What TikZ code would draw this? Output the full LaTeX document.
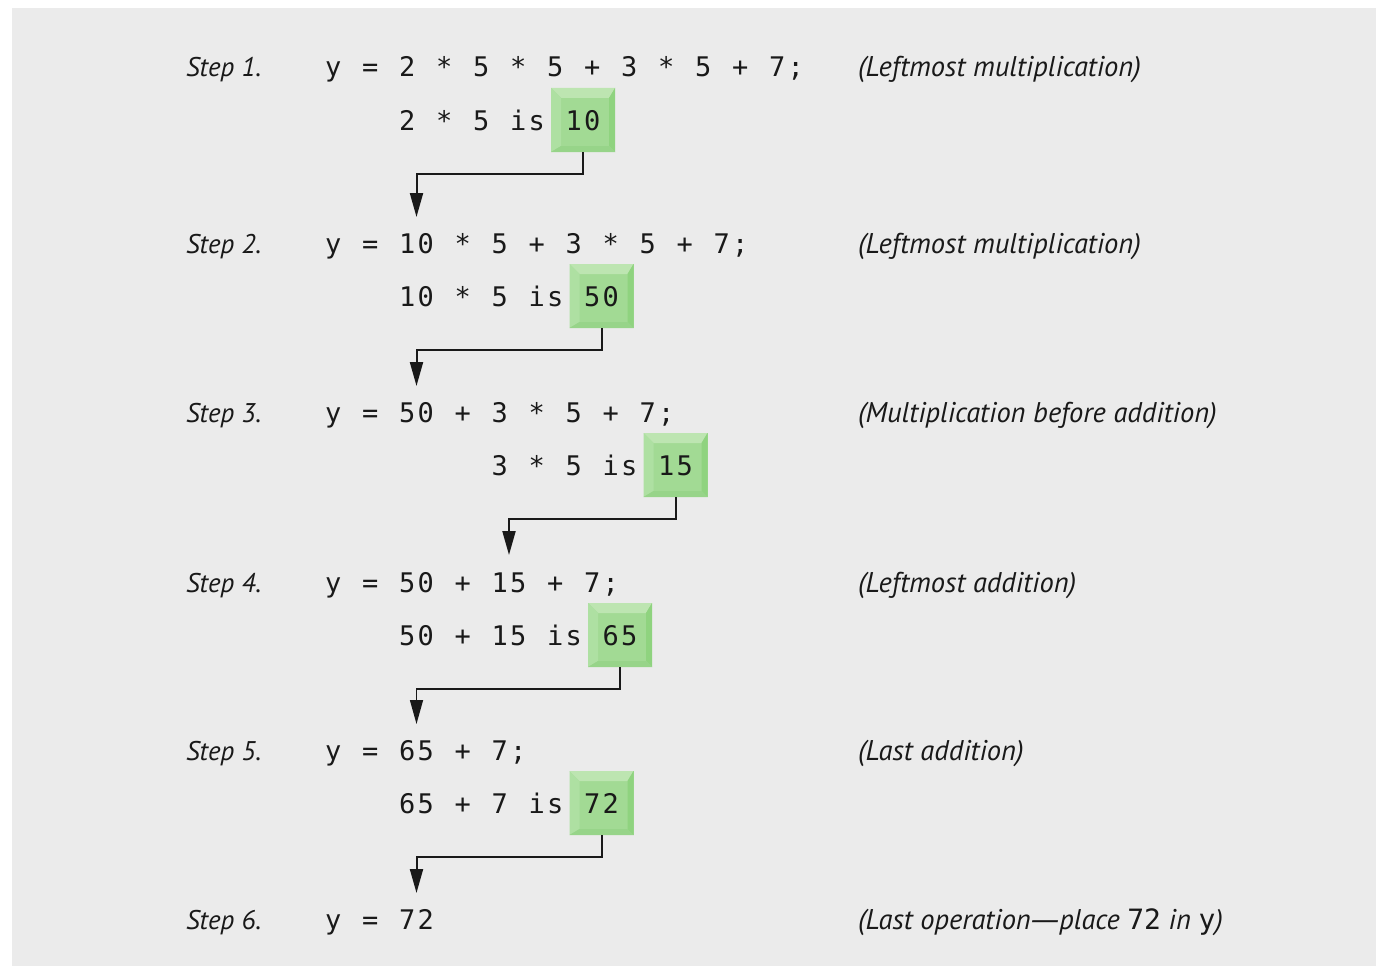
\documentclass[tikz,border=0pt]{standalone}
\usepackage{fontspec}
\setmainfont{PT Sans}
\newfontfamily\monof{DejaVu Sans Mono}
\newfontfamily\dashf{DejaVu Sans}
\usetikzlibrary{arrows.meta}
\definecolor{bgc}{RGB}{235,235,235}
\definecolor{ink}{RGB}{25,25,25}
\definecolor{gmid}{RGB}{162,218,148}
\definecolor{gtop}{RGB}{189,229,177}
\definecolor{gleft}{RGB}{174,224,162}
\definecolor{gright}{RGB}{143,211,127}
\definecolor{gbot}{RGB}{151,212,137}
\ExplSyntaxOn
\NewDocumentCommand\mline{m}{\str_map_inline:nn{#1}{\makebox[18.5pt][c]{##1}}}
\ExplSyntaxOff
\begin{document}
\begin{tikzpicture}[x=1pt,y=-1pt,
  every node/.style={inner sep=0pt, outer sep=0pt, text=ink},
  code/.style={anchor=base west, font=\monof\fontsize{27}{32}\selectfont},
  steplab/.style={anchor=base west, font=\fontsize{27}{32}\selectfont\itshape},
  note/.style={anchor=base west, font=\fontsize{28.5}{32}\selectfont\itshape},
  res/.style={anchor=base, minimum width=64pt, minimum height=64pt,
    text height=20pt, text depth=0pt, fill=gmid,
    font=\monof\fontsize{27}{32}\selectfont,
    path picture={
      \fill[gtop] (path picture bounding box.north west) -- (path picture bounding box.north east)
        -- ([xshift=-6pt,yshift=-10pt]path picture bounding box.north east)
        -- ([xshift=10pt,yshift=-10pt]path picture bounding box.north west) -- cycle;
      \fill[gleft] (path picture bounding box.north west)
        -- ([xshift=10pt,yshift=-10pt]path picture bounding box.north west)
        -- ([xshift=10pt,yshift=6pt]path picture bounding box.south west)
        -- (path picture bounding box.south west) -- cycle;
      \fill[gright] (path picture bounding box.north east)
        -- (path picture bounding box.south east)
        -- ([xshift=-6pt,yshift=6pt]path picture bounding box.south east)
        -- ([xshift=-6pt,yshift=-10pt]path picture bounding box.north east) -- cycle;
      \fill[gbot] (path picture bounding box.south west)
        -- (path picture bounding box.south east)
        -- ([xshift=-6pt,yshift=6pt]path picture bounding box.south east)
        -- ([xshift=10pt,yshift=6pt]path picture bounding box.south west) -- cycle;
    }},
  flow/.style={draw=ink, line width=2pt, -{Triangle[width=13pt,length=24pt]}}
]
\useasboundingbox (0,0) rectangle (1377,966);
\fill[bgc] (12,8) rectangle (1376,966);

% step labels
\node[steplab] (s1) at (186,77)  {Step 1.};
\node[steplab] (s2) at (186,253) {Step 2.};
\node[steplab] (s3) at (186,422) {Step 3.};
\node[steplab] (s4) at (186,592) {Step 4.};
\node[steplab] (s5) at (186,760) {Step 5.};
\node[steplab] (s6) at (186,929) {Step 6.};

% main lines
\node[code] (l1) at (324,77)  {\mline{y = 2 * 5 * 5 + 3 * 5 + 7;}};
\node[code] (l2) at (324,253) {\mline{y = 10 * 5 + 3 * 5 + 7;}};
\node[code] (l3) at (324,422) {\mline{y = 50 + 3 * 5 + 7;}};
\node[code] (l4) at (324,592) {\mline{y = 50 + 15 + 7;}};
\node[code] (l5) at (324,760) {\mline{y = 65 + 7;}};
\node[code] (l6) at (324,929) {\mline{y = 72}};

% sub lines
\node[code] (m1) at (398,130)   {\mline{2 * 5 is}};
\node[code] (m2) at (398,306)   {\mline{10 * 5 is}};
\node[code] (m3) at (490.5,475) {\mline{3 * 5 is}};
\node[code] (m4) at (398,645)   {\mline{50 + 15 is}};
\node[code] (m5) at (398,813)   {\mline{65 + 7 is}};

% results
\node[res] (r1) at (583,130)   {\mline{10}};
\node[res] (r2) at (601.5,306) {\mline{50}};
\node[res] (r3) at (675.5,475) {\mline{15}};
\node[res] (r4) at (620,645)   {\mline{65}};
\node[res] (r5) at (601.5,813) {\mline{72}};

% arrow targets
\coordinate (t2) at (416.5,217);
\coordinate (t3) at (416.5,386);
\coordinate (t4) at (509,555);
\coordinate (t5) at (416.5,724);
\coordinate (t6) at (416.5,893);

\draw[flow] (r1.south) -- ++(0,22) -| (t2);
\draw[flow] (r2.south) -- ++(0,22) -| (t3);
\draw[flow] (r3.south) -- ++(0,22) -| (t4);
\draw[flow, line width=1.5pt] (r4.south) -- ++(0,22) -| (t5);
\draw[flow] (r5.south) -- ++(0,22) -| (t6);

% notes
\node[note] (n1) at (858,77)  {(Leftmost multiplication)};
\node[note] (n2) at (858,253) {(Leftmost multiplication)};
\node[note] (n3) at (858,422) {(Multiplication before addition)};
\node[note] (n4) at (858,592) {(Leftmost addition)};
\node[note] (n5) at (858,760) {(Last addition)};
\node[note] (n6) at (858,929) {(Last operation{\dashf\itshape —}place {\upshape\monof\fontsize{28}{32}\selectfont 72} in {\upshape\monof\fontsize{28}{32}\selectfont y})};
\end{tikzpicture}
\end{document}
